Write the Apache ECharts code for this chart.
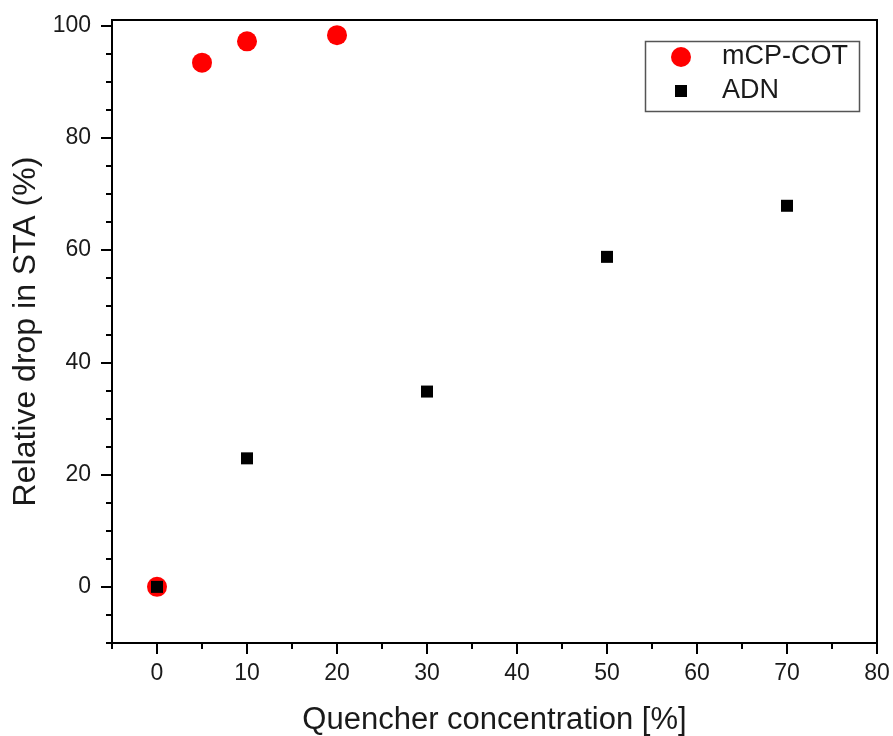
<!DOCTYPE html>
<html>
<head>
<meta charset="utf-8">
<script src="https://cdn.jsdelivr.net/npm/echarts@6/dist/echarts.min.js"></script>
<style>
  html, body { margin: 0; padding: 0; background: #fff; }
  #chart { width: 893px; height: 736px; }
</style>
</head>
<body>
<div id="chart"></div>
<script>
// Data
const mcpCotX = [0, 5, 10, 20];
const mcpCotY = [0, 93.4, 97.2, 98.3];
const adnX = [0, 10, 30, 50, 70];
const adnY = [0, 22.9, 34.8, 58.8, 67.9];

const xMajorTicks = [0, 10, 20, 30, 40, 50, 60, 70, 80];
const xMinorTicks = [-5, 5, 15, 25, 35, 45, 55, 65, 75];
const yMajorTicks = [0, 20, 40, 60, 80, 100];
const yMinorTicks = [-10, -5, 5, 10, 15, 25, 30, 35, 45, 50, 55, 65, 70, 75, 85, 90, 95];

const FONT = 'Liberation Sans, Arial, sans-serif';
const TXT = '#1a1a1a';

const chart = echarts.init(document.getElementById('chart'), null, { renderer: 'canvas' });

function pairs(xs, ys) { return xs.map((x, i) => [x, ys[i]]); }

const axisLineStyle = { color: '#000', width: 2 };

const option = {
  backgroundColor: '#fff',
  animation: false,
  grid: {
    left: 112, right: 16, top: 20, bottom: 93,
    containLabel: false, outerBoundsMode: 'none',
    show: true, borderColor: '#000', borderWidth: 2, backgroundColor: 'transparent'
  },
  xAxis: [
    {
      type: 'value', min: -5, max: 80, position: 'bottom',
      name: 'Quencher concentration [%]', nameLocation: 'middle', nameGap: 62,
      nameTextStyle: { fontFamily: FONT, fontSize: 31, color: TXT },
      axisLine: { show: true, lineStyle: axisLineStyle, onZero: false },
      axisTick: { show: true, customValues: xMajorTicks, length: 11, lineStyle: { color: '#000', width: 2 } },
      axisLabel: { show: true, customValues: xMajorTicks, margin: 19, fontFamily: FONT, fontSize: 23, color: TXT },
      splitLine: { show: false }
    },
    {
      type: 'value', min: -5, max: 80, position: 'bottom',
      axisLine: { show: false, onZero: false },
      axisTick: { show: true, customValues: xMinorTicks, length: 6, lineStyle: { color: '#000', width: 2 } },
      axisLabel: { show: false },
      splitLine: { show: false }
    }
  ],
  yAxis: [
    {
      type: 'value', min: -10, max: 101, position: 'left',
      name: 'Relative drop in STA (%)', nameLocation: 'middle', nameGap: 70,
      nameTextStyle: { fontFamily: FONT, fontSize: 32, color: TXT },
      axisLine: { show: true, lineStyle: axisLineStyle, onZero: false },
      axisTick: { show: true, customValues: yMajorTicks, length: 11, lineStyle: { color: '#000', width: 2 } },
      axisLabel: { show: true, customValues: yMajorTicks, margin: 21, fontFamily: FONT, fontSize: 23, color: TXT },
      splitLine: { show: false }
    },
    {
      type: 'value', min: -10, max: 101, position: 'left',
      axisLine: { show: false, onZero: false },
      axisTick: { show: true, customValues: yMinorTicks, length: 6, lineStyle: { color: '#000', width: 2 } },
      axisLabel: { show: false },
      splitLine: { show: false }
    }
  ],
  legend: [
    {
      data: ['mCP-COT'], orient: 'vertical', left: 671, top: 42, padding: 0,
      itemWidth: 20, itemHeight: 20, icon: 'circle',
      textStyle: { fontFamily: FONT, fontSize: 27, color: TXT, lineHeight: 30, padding: [0, 0, 0, 26] }
    },
    {
      data: ['ADN'], orient: 'vertical', left: 675, top: 76, padding: 0,
      itemWidth: 12, itemHeight: 12, icon: 'rect',
      textStyle: { fontFamily: FONT, fontSize: 27, color: TXT, lineHeight: 30, padding: [0, 0, 0, 30] }
    }
  ],
  graphic: [
    {
      type: 'rect', left: 643, top: 39, z: 100,
      shape: { width: 214, height: 70 },
      style: { fill: 'none', stroke: '#555', lineWidth: 1.5 }
    }
  ],
  series: [
    {
      name: 'mCP-COT', type: 'scatter', xAxisIndex: 0, yAxisIndex: 0,
      symbol: 'circle', symbolSize: 20,
      itemStyle: { color: '#ff0000', opacity: 1 },
      data: pairs(mcpCotX, mcpCotY), z: 2
    },
    {
      name: 'ADN', type: 'scatter', xAxisIndex: 0, yAxisIndex: 0,
      symbol: 'rect', symbolSize: 12,
      itemStyle: { color: '#000', opacity: 1 },
      data: pairs(adnX, adnY), z: 3
    }
  ]
};

chart.setOption(option);
</script>
</body>
</html>
